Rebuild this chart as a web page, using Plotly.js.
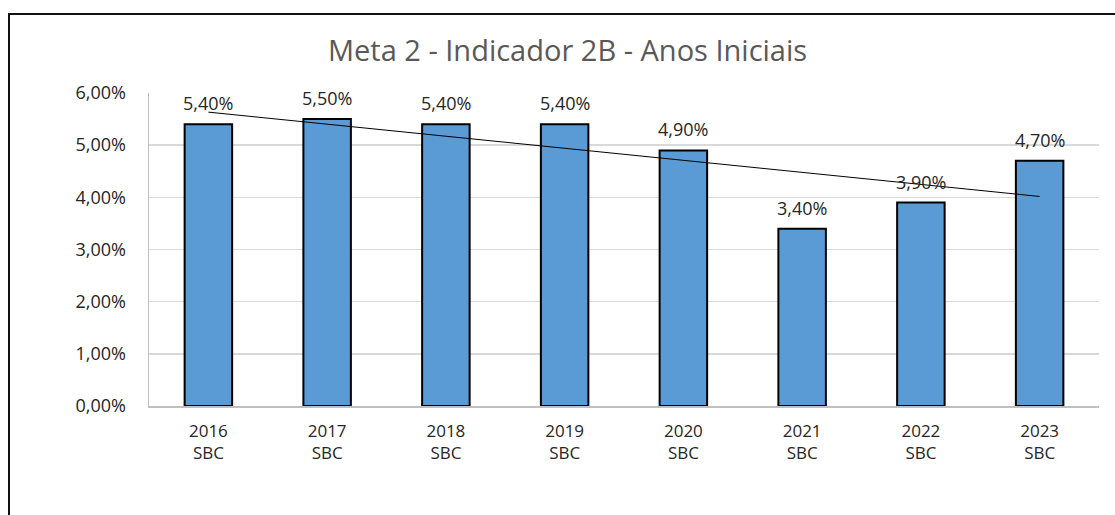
<!DOCTYPE html>
<html>
<head>
<meta charset="utf-8">
<script src="https://cdn.plot.ly/plotly-3.0.1.min.js"></script>
<style>
  html, body { margin: 0; padding: 0; background: #fff; }
  #wrap { position: relative; width: 1115px; height: 515px; overflow: hidden; }
  #frame { position: absolute; left: 8px; top: 13px; width: 1200px; height: 600px;
           border-left: 2px solid #111; border-top: 2px solid #111; pointer-events: none; }
  #chart { position: absolute; left: 0; top: 0; width: 1115px; height: 515px; }
</style>
</head>
<body>
<div id="wrap">
  <div id="chart"></div>
  <div id="frame"></div>
</div>
<script>
const years = ["2016", "2017", "2018", "2019", "2020", "2021", "2022", "2023"];
const region = "SBC";
const values = [0.054, 0.055, 0.054, 0.054, 0.049, 0.034, 0.039, 0.047];
const yTicks = [0, 0.01, 0.02, 0.03, 0.04, 0.05, 0.06];

// linear trendline (least squares) computed from the data
const n = values.length;
const idx = values.map((_, i) => i);
const mx = idx.reduce((a, b) => a + b, 0) / n;
const my = values.reduce((a, b) => a + b, 0) / n;
let sxy = 0, sxx = 0;
idx.forEach(i => { sxy += (i - mx) * (values[i] - my); sxx += (i - mx) * (i - mx); });
const slope = sxy / sxx;
const trend = idx.map(i => my + slope * (i - mx));

const fmt = v => (v * 100).toFixed(2).replace('.', ',') + '%';
const font = "Open Sans, Noto Sans, sans-serif";
const labels = years.map(y => y + '<br>' + region);

const bars = {
  type: 'bar', x: idx, y: values,
  marker: { color: '#5B9BD5', line: { color: '#000', width: 2 } },
  hoverinfo: 'skip'
};
const trendLine = {
  type: 'scatter', mode: 'lines', x: idx, y: trend,
  line: { color: '#000', width: 1 }, hoverinfo: 'skip'
};

const annotations = idx.map(i => ({
  x: i, y: values[i], xref: 'x', yref: 'y', text: fmt(values[i]),
  showarrow: false, yshift: 21, font: { family: font, size: 18, color: '#262626' }
}));

const layout = {
  width: 1115, height: 515,
  margin: { l: 149, r: 16, t: 93, b: 109 },
  paper_bgcolor: 'rgba(0,0,0,0)', plot_bgcolor: '#fff',
  separators: ',.',
  showlegend: false,
  bargap: 0.6,
  title: { text: 'Meta 2 - Indicador 2B - Anos Iniciais', x: 0.509, xanchor: 'center', y: 0.902, yanchor: 'middle',
           font: { family: font, size: 29, color: '#595959' } },
  xaxis: {
    type: 'linear', range: [-0.5, n - 0.5], tickvals: idx, ticktext: labels, tickangle: 0,
    showgrid: false, zeroline: false, showline: true, linecolor: '#bfbfbf', linewidth: 1.5, ticks: '',
    ticklabelstandoff: 9,
    tickfont: { family: font, size: 17, color: '#262626' }, fixedrange: true
  },
  yaxis: {
    range: [0, 0.06], tickvals: yTicks, tickformat: '.2%',
    showgrid: true, gridcolor: '#d9d9d9', gridwidth: 1.5,
    showline: true, linecolor: '#bfbfbf', linewidth: 1.5, zeroline: false, ticks: '',
    ticklabelstandoff: 18,
    tickfont: { family: font, size: 18, color: '#262626' }, fixedrange: true
  },
  annotations: annotations
};

Plotly.newPlot('chart', [bars, trendLine], layout, { staticPlot: true });
</script>
</body>
</html>
